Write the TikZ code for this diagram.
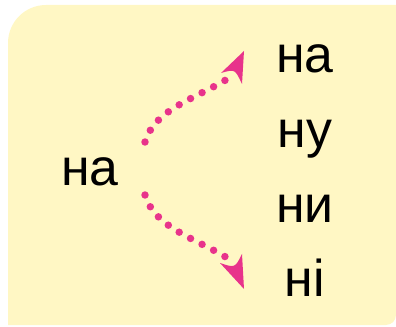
\documentclass[tikz,border=0pt]{standalone}
\usepackage{fontspec}
\setmainfont{Liberation Sans}
\definecolor{bgyellow}{HTML}{FFF7C4}
\definecolor{dotpink}{HTML}{E8338B}
\tikzset{
  word/.style={anchor=base, inner sep=0pt, font=\fontsize{52}{60}\selectfont, text=black},
  dotted path/.style={draw=dotpink, line width=7.5pt, line cap=round, dash pattern=on 0pt off 13pt},
  headfill/.style={fill=dotpink}
}
\begin{document}
\begin{tikzpicture}[x=1bp,y=1bp]
\useasboundingbox (0,0) rectangle (396,327);
\fill[bgyellow] (8,2) -- (386,2) arc[start angle=-90,end angle=0,radius=10] -- (396,322) -- (46,322) arc[start angle=90,end angle=180,radius=38] -- cycle;
\node[word] (src) at (90,142) {на};
\node[word] (w1) at (305,255) {на};
\node[word] (w2) at (305,180) {ну};
\node[word] (w3) at (305,105) {ни};
\node[word] (w4) at (305,31) {ні};
% upper arrow
\coordinate (s1) at (145,185);
\coordinate (e1) at (229,249);
\coordinate (t1) at (244,276);
\coordinate (l1) at (221,254);
\coordinate (r1) at (242,243);
\coordinate (n1) at (235,258);
% lower arrow
\coordinate (s2) at (145,132);
\coordinate (e2) at (229,68);
\coordinate (t2) at (244,38);
\coordinate (l2) at (220,64);
\coordinate (r2) at (242,73);
\coordinate (n2) at (235,59);
\draw[dotted path] (s1) .. controls (155,218) and (195,228) .. (e1);
\draw[dotted path] (s2) .. controls (155,99) and (195,89) .. (e2);
\fill[headfill] (t1) -- (l1) .. controls (n1) .. (r1) -- cycle;
\fill[headfill] (t2) -- (l2) .. controls (n2) .. (r2) -- cycle;
\end{tikzpicture}
\end{document}
